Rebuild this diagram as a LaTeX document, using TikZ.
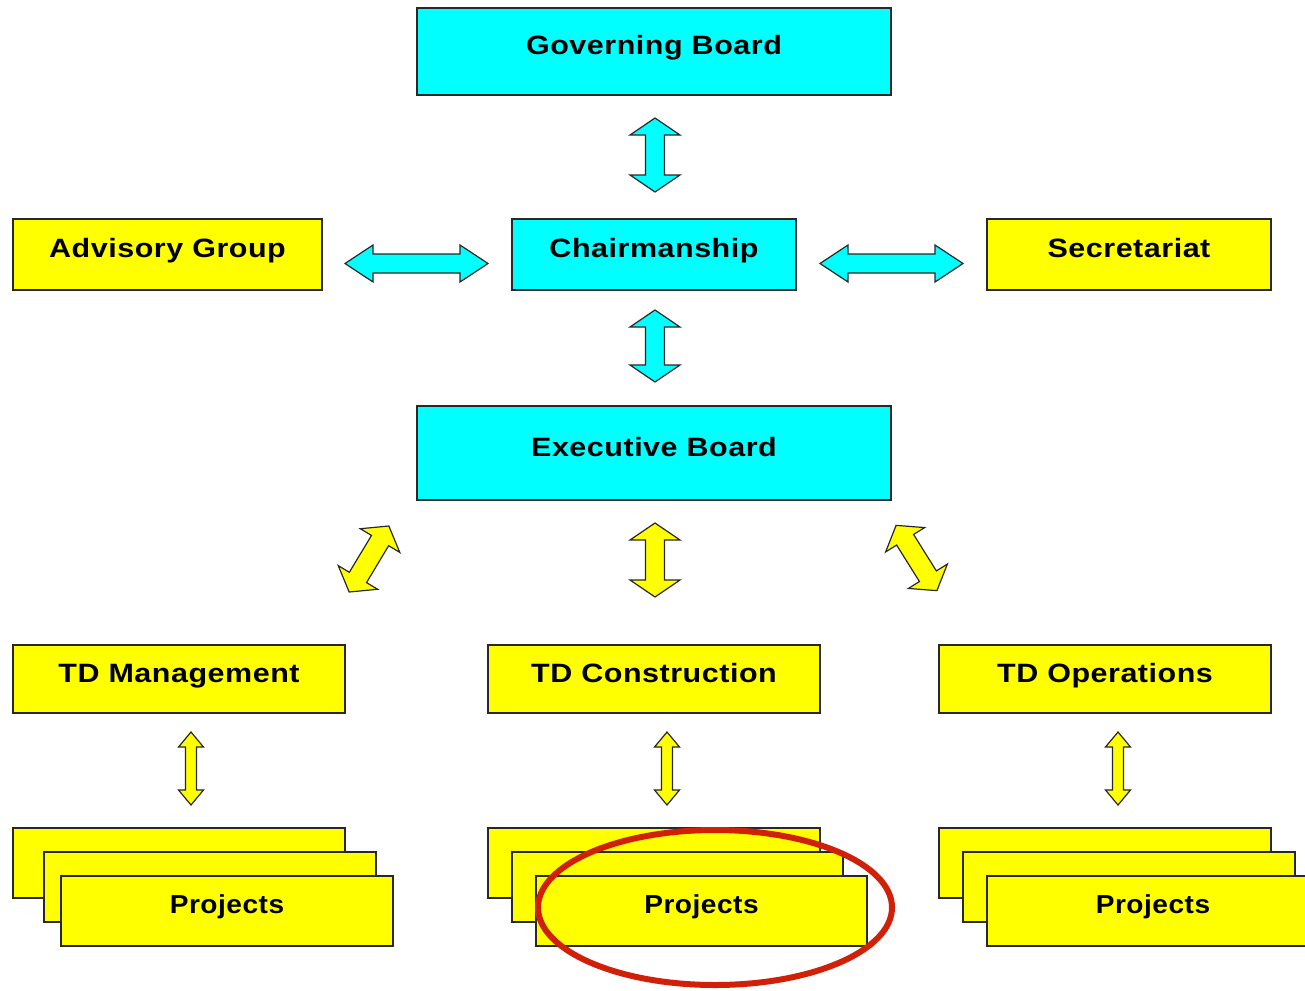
\documentclass[tikz,border=0pt]{standalone}
\usepackage{fontspec}
\newfontfamily\boxfont{Liberation Sans}[FakeStretch=1.15,LetterSpace=2]
\newfontfamily\projfont{Liberation Sans}[FakeStretch=1.08,LetterSpace=2]
\definecolor{boxcyan}{RGB}{0,255,255}
\definecolor{boxyellow}{RGB}{255,255,0}
\definecolor{edge}{RGB}{40,40,40}
\definecolor{ringred}{RGB}{208,32,8}
\tikzset{
  box/.style={draw=edge, line width=1.3pt, inner sep=0pt},
  cbox/.style={box, fill=boxcyan},
  ybox/.style={box, fill=boxyellow},
  lbl/.style={font=\boxfont\bfseries\fontsize{26.5}{31}\selectfont, text height=19pt, text depth=0pt, inner sep=0pt, yshift=6.5pt},
  plbl/.style={font=\projfont\bfseries\fontsize{26}{31}\selectfont, text height=18.6pt, text depth=0pt, inner sep=0pt, yshift=7pt},
  pics/dbl/.style n args={4}{code={
    \draw[pic actions] (-#1,0) -- (-#1+#2,#3) -- (-#1+#2,#4) -- (#1-#2,#4) -- (#1-#2,#3) -- (#1,0)
      -- (#1-#2,-#3) -- (#1-#2,-#4) -- (-#1+#2,-#4) -- (-#1+#2,-#3) -- cycle;}},
  carrow/.style={fill=boxcyan, draw=edge, line width=1.2pt},
  yarrow/.style={fill=boxyellow, draw=edge, line width=1.2pt},
}
\begin{document}
\begin{tikzpicture}[x=1pt,y=-1pt]
\useasboundingbox[fill=white] (0,0) rectangle (1305,990);

% top level
\node[cbox, minimum width=474pt, minimum height=87pt, label={[lbl]center:Governing Board}] (gb) at (654,51.5) {};
\node[ybox, minimum width=309pt, minimum height=71pt, label={[lbl]center:Advisory Group}] (adv) at (167.5,254.5) {};
\node[cbox, minimum width=284pt, minimum height=71pt, label={[lbl]center:Chairmanship}] (chair) at (654,254.5) {};
\node[ybox, minimum width=284pt, minimum height=71pt, label={[lbl]center:Secretariat}] (sec) at (1129,254.5) {};
\node[cbox, minimum width=474pt, minimum height=94pt, label={[lbl]center:Executive Board}] (exec) at (654,453) {};

% TD level
\node[ybox, minimum width=332pt, minimum height=68pt, label={[lbl]center:TD Management}] (tdm) at (179,679) {};
\node[ybox, minimum width=332pt, minimum height=68pt, label={[lbl]center:TD Construction}] (tdc) at (654,679) {};
\node[ybox, minimum width=332pt, minimum height=68pt, label={[lbl]center:TD Operations}] (tdo) at (1105,679) {};

% project stacks
\node[ybox, minimum width=332pt, minimum height=70pt] (pm1) at (179,863) {};
\node[ybox, minimum width=332pt, minimum height=70pt] (pm2) at (210,887) {};
\node[ybox, minimum width=332pt, minimum height=70pt, label={[plbl]center:Projects}] (pm3) at (227,911) {};

\node[ybox, minimum width=332pt, minimum height=70pt] (pc1) at (654,863) {};
\node[ybox, minimum width=331pt, minimum height=70pt] (pc2) at (677.5,887) {};
\node[ybox, minimum width=331pt, minimum height=70pt, label={[plbl]center:Projects}] (pc3) at (701.5,911) {};

\node[ybox, minimum width=332pt, minimum height=70pt] (po1) at (1105,863) {};
\node[ybox, minimum width=332pt, minimum height=70pt] (po2) at (1129,887) {};
\node[ybox, minimum width=332pt, minimum height=70pt, label={[plbl]center:Projects}] (po3) at (1153,911) {};

% arrow positions
\coordinate (a-gb) at (655,155);
\coordinate (a-ex) at (655,346);
\coordinate (a-adv) at (416.5,263.5);
\coordinate (a-sec) at (891.5,263.5);
\coordinate (a-tdc) at (655,560);
\coordinate (a-tdm) at (369,559);
\coordinate (a-tdo) at (916.5,558);
\coordinate (a-pm) at (191,768.5);
\coordinate (a-pc) at (667,768.5);
\coordinate (a-po) at (1118,768.5);

% cyan arrows
\pic[carrow, rotate=90] at (a-gb) {dbl={37}{17}{25}{9.5}};
\pic[carrow, rotate=90] at (a-ex) {dbl={36}{17}{25}{9.5}};
\pic[carrow] at (a-adv) {dbl={71.5}{28}{18.5}{9.5}};
\pic[carrow] at (a-sec) {dbl={71.5}{28}{18.5}{9.5}};

% yellow big arrows
\pic[yarrow, rotate=90] at (a-tdc) {dbl={37}{17}{25}{9.5}};
\pic[yarrow, rotate=59] at (a-tdm) {dbl={38.5}{17}{23}{10}};
\pic[yarrow, rotate=-58] at (a-tdo) {dbl={38.5}{17}{23}{10}};

% yellow thin arrows
\pic[yarrow, rotate=90] at (a-pm) {dbl={36.5}{15}{12.5}{5.5}};
\pic[yarrow, rotate=90] at (a-pc) {dbl={36.5}{15}{12.5}{5.5}};
\pic[yarrow, rotate=90] at (a-po) {dbl={36.5}{15}{12.5}{5.5}};

% red ring
\draw[ringred, line width=6pt] (715,907.5) ellipse [x radius=177pt, y radius=77.5pt];
\end{tikzpicture}
\end{document}
